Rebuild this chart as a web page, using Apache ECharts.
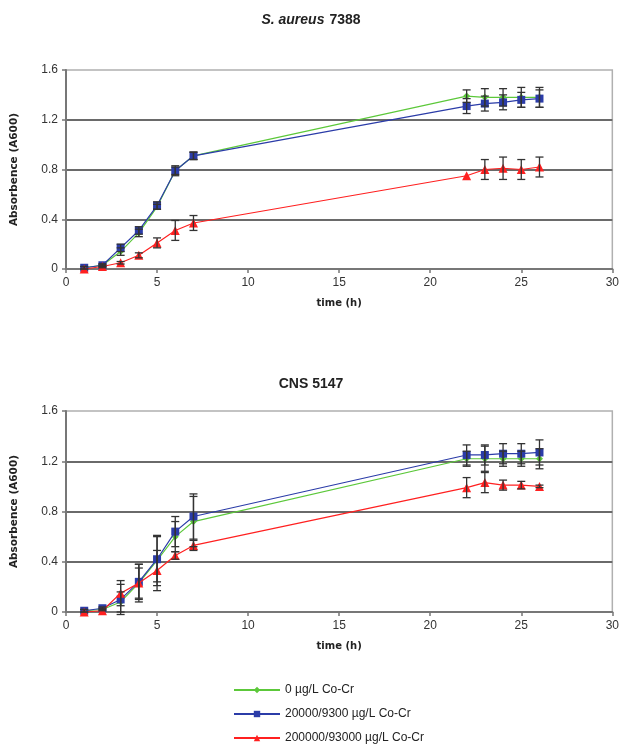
<!DOCTYPE html>
<html><head><meta charset="utf-8">
<script src="https://cdn.jsdelivr.net/npm/echarts@6/dist/echarts.min.js"></script>
<style>html,body{margin:0;padding:0;background:#fff}#c{width:622px;height:755px}</style>
</head><body><div id="c"></div>
<script>
const time = [1, 2, 3, 4, 5, 6, 7, 22, 23, 24, 25, 26];
const xTicks = [0, 5, 10, 15, 20, 25, 30];
const yTicks = [0, 0.4, 0.8, 1.2, 1.6];
const seriesNames = ['0 µg/L Co-Cr', '20000/9300 µg/L Co-Cr', '200000/93000 µg/L Co-Cr'];

// S. aureus 7388
const saGreen = [0.01, 0.03, 0.14, 0.29, 0.50, 0.79, 0.91, 1.39, 1.38, 1.38, 1.38, 1.38];
const saGreenErr = [0.01, 0.01, 0.03, 0.03, 0.02, 0.03, 0.03, 0.05, 0.07, 0.07, 0.08, 0.08];
const saBlue = [0.01, 0.03, 0.17, 0.31, 0.51, 0.79, 0.91, 1.31, 1.33, 1.34, 1.36, 1.37];
const saBlueErr = [0.01, 0.01, 0.03, 0.03, 0.03, 0.04, 0.03, 0.06, 0.06, 0.06, 0.06, 0.07];
const saRed = [0.00, 0.02, 0.05, 0.11, 0.21, 0.31, 0.37, 0.75, 0.80, 0.81, 0.80, 0.82];
const saRedErr = [0, 0.01, 0.01, 0.02, 0.04, 0.08, 0.06, 0, 0.08, 0.09, 0.08, 0.08];

// CNS 5147
const cnsGreen = [0.01, 0.02, 0.08, 0.23, 0.41, 0.60, 0.72, 1.22, 1.22, 1.22, 1.22, 1.22];
const cnsGreenErr = [0.01, 0.01, 0.08, 0.12, 0.20, 0.12, 0.20, 0.06, 0.10, 0.06, 0.06, 0.08];
const cnsBlue = [0.01, 0.03, 0.10, 0.24, 0.42, 0.64, 0.76, 1.25, 1.25, 1.26, 1.26, 1.27];
const cnsBlueErr = [0.01, 0.01, 0.12, 0.14, 0.18, 0.12, 0.18, 0.08, 0.08, 0.08, 0.08, 0.10];
const cnsRed = [0.00, 0.01, 0.15, 0.23, 0.33, 0.45, 0.53, 0.99, 1.03, 1.01, 1.01, 1.00];
const cnsRedErr = [0, 0, 0.10, 0.15, 0.16, 0.03, 0.04, 0.08, 0.08, 0.04, 0.03, 0.01];

const colors = ['#5cc83a', '#2b3ca8', '#ff2020'];
const symbols = ['diamond', 'rect', 'triangle'];
const symSizes = [7, 8, 9];
const FONT = 'Liberation Sans';

function lineSeries(idx, k, vals) {
  return {
    name: seriesNames[k], type: 'line', xAxisIndex: idx, yAxisIndex: idx,
    data: time.map((t, i) => [t, vals[i]]),
    symbol: symbols[k], symbolSize: symSizes[k], showSymbol: true,
    lineStyle: {color: colors[k], width: 1.2},
    itemStyle: {color: colors[k]},
    z: 3 + k, animation: false
  };
}
function errSeries(idx, vals, errs) {
  return {
    type: 'custom', xAxisIndex: idx, yAxisIndex: idx, silent: true, z: 10, animation: false,
    data: time.map((t, i) => [t, vals[i] - errs[i], vals[i] + errs[i]]).filter(d => d[2] - d[1] > 0.015),
    encode: {x: 0, y: [1, 2]},
    renderItem: function (params, api) {
      const lo = api.coord([api.value(0), api.value(1)]);
      const hi = api.coord([api.value(0), api.value(2)]);
      const w = 4;
      const st = {stroke: '#333', lineWidth: 1.3};
      return {type: 'group', children: [
        {type: 'line', shape: {x1: lo[0], y1: lo[1], x2: hi[0], y2: hi[1]}, style: st},
        {type: 'line', shape: {x1: lo[0] - w, y1: lo[1], x2: lo[0] + w, y2: lo[1]}, style: st},
        {type: 'line', shape: {x1: hi[0] - w, y1: hi[1], x2: hi[0] + w, y2: hi[1]}, style: st}
      ]};
    }
  };
}
function xAxis(idx) {
  return {
    type: 'value', gridIndex: idx, min: xTicks[0], max: xTicks[xTicks.length - 1], interval: 5,
    name: 'time (h)', nameLocation: 'middle', nameGap: 29,
    nameTextStyle: {fontFamily: 'DejaVu Sans', fontWeight: 'bold', fontSize: 10, color: '#222'},
    axisLine: {lineStyle: {color: '#777', width: 2}},
    axisTick: {show: true, length: 4, lineStyle: {color: '#777', width: 1.5}},
    axisLabel: {fontFamily: FONT, fontSize: 12, color: '#333', margin: 8},
    splitLine: {show: false}
  };
}
function yAxis(idx) {
  return {
    type: 'value', gridIndex: idx, min: yTicks[0], max: yTicks[yTicks.length - 1], interval: 0.4,
    name: 'Absorbence (A600)', nameLocation: 'middle', nameGap: 46, nameRotate: 90,
    nameTextStyle: {fontFamily: 'DejaVu Sans', fontWeight: 'bold', fontSize: 10.5, color: '#222'},
    axisLine: {show: true, lineStyle: {color: '#777', width: 2}},
    axisTick: {show: true, length: 4, lineStyle: {color: '#777', width: 1.5}},
    axisLabel: {fontFamily: FONT, fontSize: 12, color: '#333', margin: 8,
      formatter: v => (v === 0 ? '0' : v.toFixed(1))},
    splitLine: {show: true, showMinLine: false, showMaxLine: false, lineStyle: {color: '#6a6a6a', width: 2}}
  };
}

const chart = echarts.init(document.getElementById('c'), null, {renderer: 'canvas'});
chart.setOption({
  animation: false,
  backgroundColor: '#fff',
  title: [
    {text: '{i|S. aureus} {b|7388}', left: 'center', top: 6,
      textStyle: {rich: {
        i: {fontFamily: FONT, fontStyle: 'italic', fontWeight: 'bold', fontSize: 14, color: '#222'},
        b: {fontFamily: FONT, fontWeight: 'bold', fontSize: 14, color: '#222'}}}},
    {text: 'CNS 5147', left: 'center', top: 372,
      textStyle: {fontFamily: FONT, fontWeight: 'bold', fontSize: 14, color: '#222'}}
  ],
  grid: [
    {left: 66, right: 9, top: 70, height: 199, show: true, borderColor: '#b0b0b0', borderWidth: 1.5, backgroundColor: 'transparent'},
    {left: 66, right: 9, top: 411, height: 201, show: true, borderColor: '#b0b0b0', borderWidth: 1.5, backgroundColor: 'transparent'}
  ],
  xAxis: [xAxis(0), xAxis(1)],
  yAxis: [yAxis(0), yAxis(1)],
  legend: {
    data: seriesNames, orient: 'vertical', left: 228, top: 679, itemGap: 12,
    itemWidth: 46, itemHeight: 8,
    textStyle: {fontFamily: FONT, fontSize: 12, color: '#222'}
  },
  series: [
    lineSeries(0, 0, saGreen), lineSeries(0, 1, saBlue), lineSeries(0, 2, saRed),
    errSeries(0, saGreen, saGreenErr), errSeries(0, saBlue, saBlueErr), errSeries(0, saRed, saRedErr),
    lineSeries(1, 0, cnsGreen), lineSeries(1, 1, cnsBlue), lineSeries(1, 2, cnsRed),
    errSeries(1, cnsGreen, cnsGreenErr), errSeries(1, cnsBlue, cnsBlueErr), errSeries(1, cnsRed, cnsRedErr)
  ]
});
</script></body></html>
